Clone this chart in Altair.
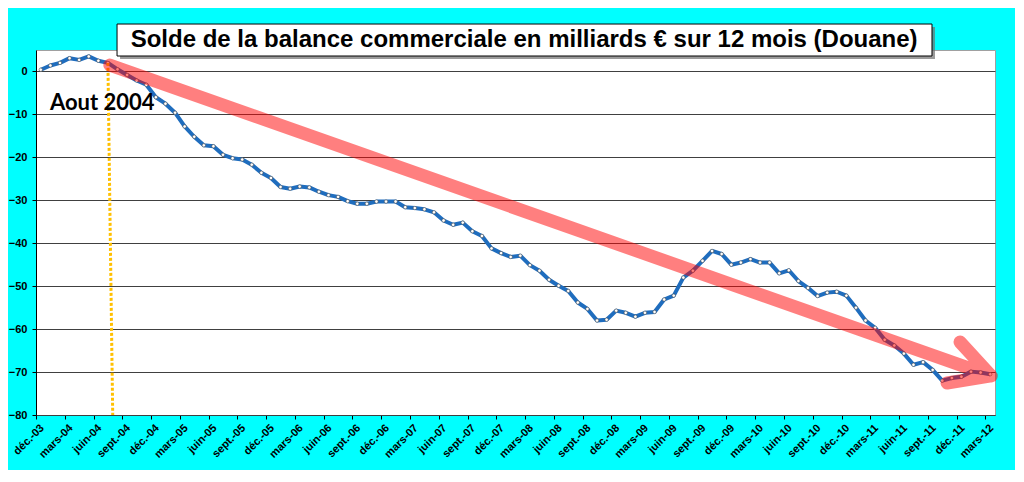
import json
import altair as alt
import pandas as pd

# Solde de la balance commerciale, cumul 12 mois (Md EUR), mensuel de déc-03 à mars-12
solde = [
    0.4, 1.4, 2.0, 3.1, 2.7, 3.5, 2.5, 2.0, 0.5, -0.8,
    -2.1, -3.1, -6.0, -7.5, -9.6, -12.8, -15.2, -17.2, -17.4, -19.4,
    -20.2, -20.5, -21.7, -23.6, -24.8, -26.9, -27.3, -26.8, -27.0, -28.0,
    -28.8, -29.2, -30.2, -30.8, -30.8, -30.3, -30.3, -30.3, -31.6, -31.8,
    -32.1, -32.8, -34.7, -35.7, -35.2, -37.2, -38.3, -41.2, -42.3, -43.2,
    -42.9, -45.1, -46.4, -48.5, -49.9, -51.1, -53.8, -55.3, -58.0, -57.8,
    -55.7, -56.2, -57.1, -56.2, -56.0, -53.1, -52.2, -48.0, -46.4, -44.1,
    -41.8, -42.5, -45.0, -44.5, -43.7, -44.5, -44.5, -47.0, -46.3, -48.8,
    -50.4, -52.3, -51.5, -51.3, -52.2, -55.0, -58.0, -59.7, -62.5, -63.8,
    -65.7, -68.3, -67.7, -69.5, -72.0, -71.4, -71.1, -69.9, -70.1, -70.5,
]

# one label every 3 months
tick_labels = [
    "déc.-03", "mars-04", "juin-04", "sept.-04", "déc.-04", "mars-05", "juin-05",
    "sept.-05", "déc.-05", "mars-06", "juin-06", "sept.-06", "déc.-06", "mars-07",
    "juin-07", "sept.-07", "déc.-07", "mars-08", "juin-08", "sept.-08", "déc.-08",
    "mars-09", "juin-09", "sept.-09", "déc.-09", "mars-10", "juin-10", "sept.-10",
    "déc.-10", "mars-11", "juin-11", "sept.-11", "déc.-11", "mars-12",
]
y_ticks = [-80, -70, -60, -50, -40, -30, -20, -10, 0]

titre = "Solde de la balance commerciale en milliards € sur 12 mois (Douane)"
note = "Aout 2004"

# annotations, in (month index, value) units
arrow_x = [7.2, 99.1, 95.85, 99.1, 94.5]
arrow_y = [1.5, -70.9, -63.0, -70.9, -72.55]
marker_x = [7.0, 7.5]
marker_y = [2.0, -80]

df = pd.DataFrame({"mois": range(len(solde)), "solde": solde})
df_arrow = pd.DataFrame({"x": arrow_x, "y": arrow_y, "ordre": range(len(arrow_x))})
df_marker = pd.DataFrame({"x": [marker_x[0]], "x2": [marker_x[1]], "y": [marker_y[0]], "y2": [marker_y[1]]})
df_box = pd.DataFrame({"x": [7.95], "x2": [92.93], "y": [11.05], "y2": [3.6]})
df_titre = pd.DataFrame({"x": [50.4], "y": [5.7], "t": [titre]})
df_note = pd.DataFrame({"x": [0.96], "y": [-9.0], "t": [note]})

x_scale = alt.Scale(domain=[-0.5, len(solde) - 0.5], nice=False, zero=False)
y_scale = alt.Scale(domain=[-80, 5], nice=False, zero=False)

label_expr = json.dumps(tick_labels, ensure_ascii=False) + "[round((datum.value + 0.5) / 3)]"

x_axis = alt.Axis(
    values=[3 * k - 0.5 for k in range(len(tick_labels))], tickCount=200,
    labelExpr=label_expr, labelAngle=-45, labelAlign="right", labelBaseline="middle",
    labelOffset=6, labelPadding=7, labelFlush=False, labelOverlap=False,
    labelFont="Liberation Sans", labelFontWeight="bold", labelFontSize=11, labelColor="black",
    tickColor="black", tickSize=4, domainColor="#404040", grid=False, title=None,
)
y_axis = alt.Axis(
    values=y_ticks, tickCount=20, grid=True, gridColor="#404040", gridWidth=1,
    domainColor="black", tickColor="black", tickSize=4,
    labelFont="Liberation Sans", labelFontWeight="bold", labelFontSize=11, labelColor="black",
    labelPadding=5, title=None,
)

x_enc = alt.X("mois:Q", scale=x_scale, axis=x_axis)
y_enc = alt.Y("solde:Q", scale=y_scale, axis=y_axis)

ligne = alt.Chart(df).mark_line(color="#1F6DBE", strokeWidth=4, strokeJoin="round").encode(x=x_enc, y=y_enc)
points = alt.Chart(df).mark_point(
    shape="circle", filled=True, fill="white", stroke="#505050", strokeWidth=0.6, size=12, opacity=1
).encode(x="mois:Q", y="solde:Q")

repere = alt.Chart(df_marker).mark_rule(color="#FFC000", strokeWidth=3, strokeDash=[3, 2]).encode(
    x="x:Q", x2="x2", y="y:Q", y2="y2"
)

fleche = alt.Chart(df_arrow).mark_line(
    color="#FF0000", opacity=0.5, strokeWidth=13, strokeCap="round", strokeJoin="round"
).encode(x="x:Q", y="y:Q", order="ordre:Q")

ombre = alt.Chart(df_box).mark_rect(color="#707070", opacity=0.7, xOffset=3, x2Offset=3, yOffset=3, y2Offset=3).encode(
    x="x:Q", x2="x2", y="y:Q", y2="y2"
)
cadre = alt.Chart(df_box).mark_rect(fill="white", stroke="black", strokeWidth=1).encode(
    x="x:Q", x2="x2", y="y:Q", y2="y2"
)
texte_titre = alt.Chart(df_titre).mark_text(
    font="Liberation Sans", fontWeight="bold", fontSize=24, color="black", align="center", baseline="alphabetic"
).encode(x="x:Q", y="y:Q", text="t:N")
texte_note = alt.Chart(df_note).mark_text(
    font="Lato", fontWeight="bold", fontSize=22, color="black", align="left", baseline="alphabetic"
).encode(x="x:Q", y="y:Q", text="t:N")

chart = alt.layer(
    ligne, points, repere, texte_note, fleche, ombre, cadre, texte_titre
).properties(
    width=959, height=365,
    autosize=alt.AutoSizeParams(type="none"),
    padding={"left": 28, "top": 42, "right": 20, "bottom": 55},
).configure(
    background="#00FFFF"
).configure_view(
    fill="white", stroke="#A0A0A0", strokeWidth=1
)

chart.save("out.html", embed_options={"renderer": "svg", "actions": False})
